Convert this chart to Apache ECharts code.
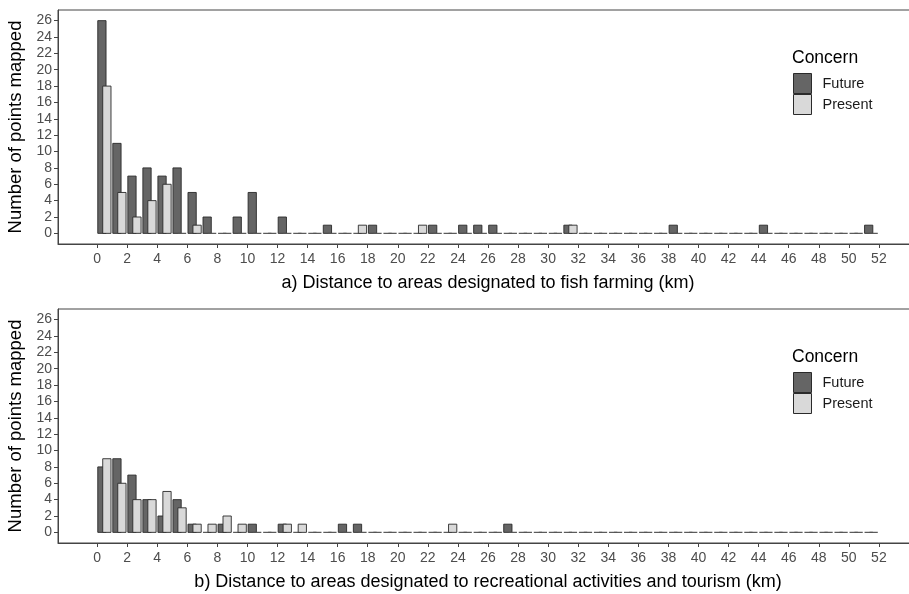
<!DOCTYPE html>
<html><head><meta charset="utf-8">
<script src="https://cdn.jsdelivr.net/npm/echarts@6/dist/echarts.min.js"></script>
<style>html,body{margin:0;padding:0;background:#fff}#c{width:909px;height:594px}</style>
</head><body><div id="c"></div>
<script>
// bin index (km, bin [i, i+1))
const bins = [0,1,2,3,4,5,6,7,8,9,10,11,12,13,14,15,16,17,18,19,20,21,22,23,24,25,26,27,28,29,30,31,32,33,34,35,36,37,38,39,40,41,42,43,44,45,46,47,48,49,50,51];
// panel a) fish farming
const fishFuture  = [26,11,7,8,7,8,5,2,0,2,5,0,2,0,0,1,0,0,1,0,0,0,1,0,1,1,1,0,0,0,0,1,0,0,0,0,0,0,1,0,0,0,0,0,1,0,0,0,0,0,0,1];
const fishPresent = [18,5,2,4,6,0,1,0,0,0,0,0,0,0,0,0,0,1,0,0,0,1,0,0,0,0,0,0,0,0,0,1,0,0,0,0,0,0,0,0,0,0,0,0,0,0,0,0,0,0,0,0];
// panel b) recreation / tourism
const recFuture   = [8,9,7,4,2,4,1,0,1,0,1,0,1,0,0,0,1,1,0,0,0,0,0,0,0,0,0,1,0,0,0,0,0,0,0,0,0,0,0,0,0,0,0,0,0,0,0,0,0,0,0,0];
const recPresent  = [9,6,4,4,5,3,1,1,2,1,0,0,1,1,0,0,0,0,0,0,0,0,0,1,0,0,0,0,0,0,0,0,0,0,0,0,0,0,0,0,0,0,0,0,0,0,0,0,0,0,0,0];
const xTicks = [0,2,4,6,8,10,12,14,16,18,20,22,24,26,28,30,32,34,36,38,40,42,44,46,48,50,52];
const yTicks = [0,2,4,6,8,10,12,14,16,18,20,22,24,26];
const seriesNames = ['Future','Present'];
const xTitles = ['a) Distance to areas designated to fish farming (km)',
                 'b) Distance to areas designated to recreational activities and tourism (km)'];
const yTitle = 'Number of points mapped';

const FONT = 'Liberation Sans, Arial, sans-serif';
const FILL = {Future:'#656565', Present:'#d9d9d9'};
const OFFSET = {Future:0.32, Present:0.65};
const BARW = 0.55;

function makeRender(name){
  return function(params, api){
    const x = api.value(0) + OFFSET[name];
    const v = api.value(1);
    const pL = api.coord([x - BARW/2, v]);
    const pR = api.coord([x + BARW/2, 0]);
    if (v === 0) {
      return {type:'line', shape:{x1:pL[0], y1:pR[1], x2:pR[0], y2:pR[1]},
              style:{stroke:'#555', lineWidth:1.2}};
    }
    return {type:'rect', shape:{x:pL[0], y:pL[1], width:pR[0]-pL[0], height:pR[1]-pL[1]},
            style:{fill:FILL[name], stroke:'#2a2a2a', lineWidth:0.9}};
  };
}

const panels = [[fishFuture, fishPresent],[recFuture, recPresent]];
const tops = [10, 309];
const grid = [], xAxis = [], yAxis = [], series = [], legend = [], graphic = [];
tops.forEach((top, k) => {
  grid.push({left:58, top:top, width:860, height:234, show:true, borderColor:'#444', borderWidth:1,
             backgroundColor:'transparent', outerBoundsMode:'none', containLabel:false});
  xAxis.push({type:'value', gridIndex:k, min:-2.6, max:54.6,
    name:xTitles[k], nameLocation:'middle', nameGap:30,
    nameTextStyle:{fontSize:18, color:'#000', fontFamily:FONT},
    axisLine:{show:true, onZero:false, lineStyle:{color:'#444', width:1}},
    axisTick:{show:true, length:4, lineStyle:{color:'#444'}, customValues:xTicks},
    axisLabel:{customValues:xTicks, fontSize:14, color:'#4d4d4d', fontFamily:FONT, margin:8},
    splitLine:{show:false}});
  yAxis.push({type:'value', gridIndex:k, min:-1.3, max:27.3,
    name:yTitle, nameLocation:'middle', nameGap:29, nameRotate:90,
    nameTextStyle:{fontSize:18.5, color:'#000', fontFamily:FONT},
    axisLine:{show:true, onZero:false, lineStyle:{color:'#444', width:1}},
    axisTick:{show:true, length:4, lineStyle:{color:'#444'}, customValues:yTicks},
    axisLabel:{customValues:yTicks, fontSize:14, color:'#4d4d4d', fontFamily:FONT, margin:6},
    splitLine:{show:false}});
  seriesNames.forEach((nm, j) => {
    series.push({type:'custom', name:nm, xAxisIndex:k, yAxisIndex:k,
      coordinateSystem:'cartesian2d', renderItem:makeRender(nm),
      itemStyle:{color:FILL[nm], borderColor:'#2a2a2a', borderWidth:1},
      encode:{x:0, y:1},
      data: bins.map((b, i) => [b, panels[k][j][i]])});
  });
  legend.push({orient:'vertical', left:793, top:top+63, padding:0, itemWidth:18, itemHeight:20, itemGap:0,
    icon:'rect', selectedMode:false,
    textStyle:{fontSize:14.5, color:'#1a1a1a', fontFamily:FONT, padding:[0,0,0,6]},
    data: seriesNames.map(nm => ({name:nm, itemStyle:{color:FILL[nm], borderColor:'#2a2a2a', borderWidth:1}}))});
  graphic.push({type:'text', left:792, top:top+39,
    style:{text:'Concern', fontSize:17.5, fill:'#000', fontFamily:FONT}});
});

const chart = echarts.init(document.getElementById('c'), null, {renderer:'canvas'});
chart.setOption({animation:false, backgroundColor:'#fff', grid, xAxis, yAxis, series, legend, graphic});
</script></body></html>
